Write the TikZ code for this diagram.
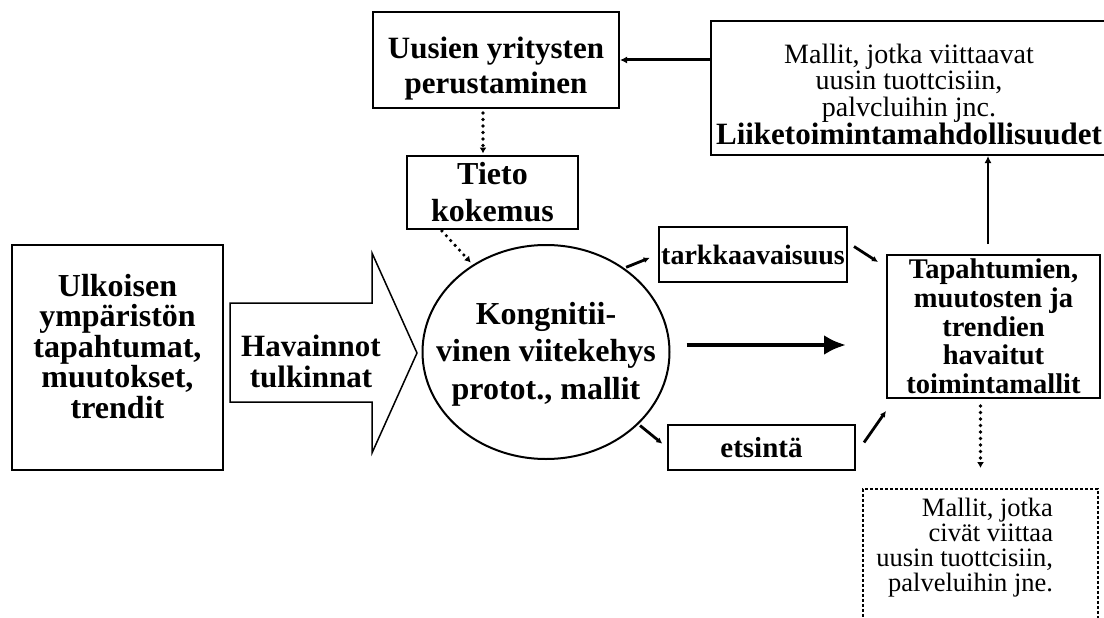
\documentclass[tikz,border=0pt]{standalone}
\usepackage{fontspec}
\setmainfont{Liberation Serif}
\usetikzlibrary{shapes.geometric,arrows.meta,calc}
\newcommand\myfs[2]{\fontsize{#1}{#2}\selectfont}
\begin{document}
\begin{tikzpicture}[x=1pt,y=-1pt,
  box/.style={draw, line width=2pt, inner sep=0pt, align=center},
  conn/.style={line width=2.8pt, -{Latex[length=6pt,width=6pt]}},
  dots/.style={line width=3.6pt, line cap=round, dash pattern=on 0pt off 6.5pt, -{Latex[length=6pt,width=7pt]}},
  bigarrow/.style={line width=4.5pt, -{Latex[length=22pt,width=20pt]}},
  txt/.style={inner sep=0pt, align=center}
  ]
\useasboundingbox (0,0) rectangle (1104,618);
\fill[white] (0,0) rectangle (1104,618);

% nodes
\node[box, minimum width=246, minimum height=96, font=\myfs{31}{35}\bfseries] (uus) at (496,60)
  {\begin{minipage}[c][96pt][t]{246pt}\centering\vspace*{25pt}Uusien yritysten\\perustaminen\end{minipage}};
\node[box, minimum width=396, minimum height=134, font=\myfs{28}{26.5}] (mall) at (909,88)
  {\begin{minipage}[c][134pt][t]{396pt}\centering\vspace*{23pt}Mallit, jotka viittaavat\\uusin tuottcisiin,\\palvcluihin jnc.\\{\myfs{31}{26.5}\bfseries Liiketoimintamahdollisuudet}\end{minipage}};
\node[box, minimum width=171, minimum height=73, font=\myfs{32}{37}\bfseries] (tieto) at (492.5,192) {Tieto\\kokemus};
\node[box, minimum width=211, minimum height=225, font=\myfs{32}{30.5}\bfseries] (ulk) at (117.5,357.5)
  {\begin{minipage}[c][225pt][t]{211pt}\centering\vspace*{29pt}Ulkoisen\\ympäristön\\tapahtumat,\\muutokset,\\trendit\end{minipage}};
\draw[line width=1.5pt] (230,303) -- (372,303) -- (372,253) -- (417,353) -- (372,453) -- (372,402) -- (230,402) -- cycle;
\node[txt, font=\myfs{31}{31}\bfseries] (hav) at (311,361) {Havainnot\\tulkinnat};
\node[draw, ellipse, line width=2pt, minimum width=247, minimum height=214, inner sep=0pt] (circ) at (546,352) {};
\node[txt, font=\myfs{32}{37.5}\bfseries] (circtxt) at (546,354) {Kongnitii-\\vinen viitekehys\\protot., mallit};
\node[box, minimum width=188, minimum height=55, font=\myfs{28}{30}\bfseries] (tark) at (753,254.5) {tarkkaavaisuus};
\node[box, minimum width=187, minimum height=45, font=\myfs{29}{30}\bfseries] (ets) at (761.5,447.5) {etsintä};
\node[box, minimum width=213, minimum height=143, font=\myfs{28.5}{28.7}\bfseries] (tapa) at (993.5,326.5) {Tapahtumien,\\muutosten ja\\trendien\\havaitut\\toimintamallit};
\node[draw, densely dashed, line width=1.8pt, inner sep=0pt, anchor=north, font=\myfs{26.5}{25}] (bot) at (980.5,488)
  {\begin{minipage}[c][160pt][t]{235pt}\raggedleft\rightskip=45pt\vspace*{9.5pt}Mallit, jotka\\civät viittaa\\uusin tuottcisiin,\\palveluihin jne.\end{minipage}};

% connectors
\draw[line width=3pt, -{Latex[length=7pt,width=7pt]}] (uus.east -| mall.west) -- (uus.east);
\draw[line width=2.8pt, -{Latex[length=7pt,width=7pt]}, shorten <=10pt] ([xshift=-5.5pt]tapa.north) -- ([xshift=-5.5pt]tapa.north |- mall.south);
\draw[bigarrow, shorten <=16pt, shorten >=40pt] ([yshift=7pt]circ.east) -- ([yshift=7pt]circ.east -| tapa.west);
\draw[dots, shorten <=4pt, shorten >=1pt] ([xshift=-13pt]uus.south) -- ([xshift=-13pt]uus.south |- tieto.north);
\draw[dots, shorten <=2pt, shorten >=3pt] ($(tieto.south west)!0.2!(tieto.south east)$) -- (circ.130);
\draw[dots, shorten <=7pt, shorten >=20pt] (tapa.south -| bot.north) -- (bot.north);
\draw[conn, shorten <=2pt, shorten >=9pt] (circ.47) -- (tark.west);
\draw[conn] ($(tark.east)+(6,-8)$) -- ($(tapa.north west)+(-8,8)$);
\draw[conn, shorten <=2pt, shorten >=6pt] (circ.-38) -- (ets.west);
\draw[conn] ($(ets.east)+(8,-5)$) -- ($(tapa.south west)+(0,12)$);
\end{tikzpicture}
\end{document}
